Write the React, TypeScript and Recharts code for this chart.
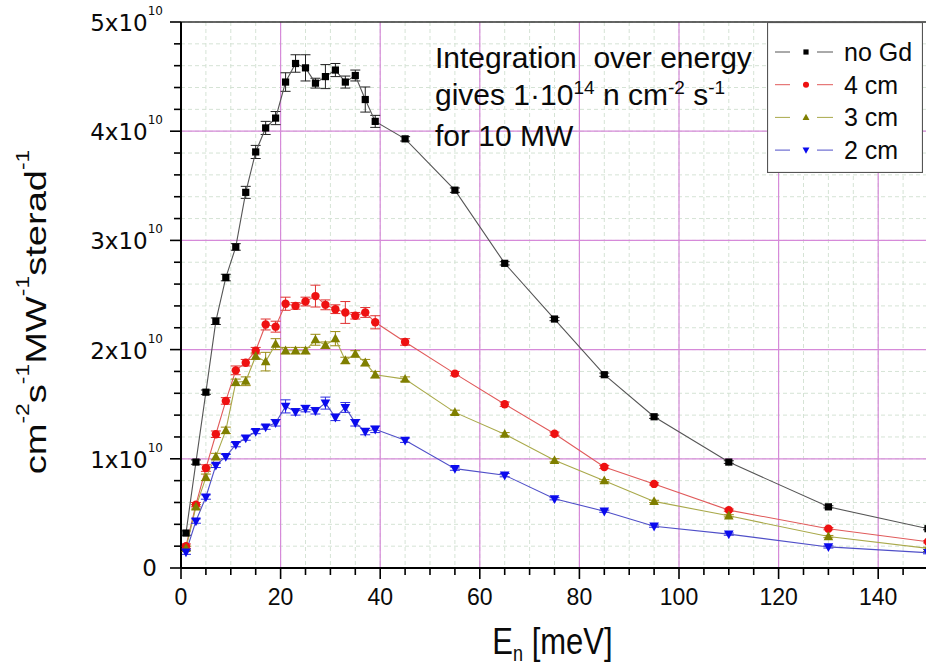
import React from 'react';
import {
  ComposedChart,
  Line,
  XAxis,
  YAxis,
  ErrorBar,
  CartesianGrid,
  ReferenceLine,
  Legend,
} from 'recharts';

// ---------- data (flux in units of 1e10) ----------
const energies = [1, 3, 5, 7, 9, 11, 13, 15, 17, 19, 21, 23, 25, 27, 29, 31, 33, 35, 37, 39, 45, 55, 65, 75, 85, 95, 110, 130, 150];

const noGd = [0.32, 0.97, 1.61, 2.26, 2.66, 2.94, 3.44, 3.81, 4.03, 4.12, 4.45, 4.62, 4.58, 4.44, 4.5, 4.56, 4.45, 4.51, 4.29, 4.09, 3.93, 3.46, 2.79, 2.28, 1.77, 1.385, 0.97, 0.56, 0.36];
const gd4 = [0.2, 0.58, 0.915, 1.225, 1.53, 1.81, 1.88, 1.99, 2.23, 2.21, 2.42, 2.4, 2.44, 2.49, 2.41, 2.37, 2.34, 2.31, 2.34, 2.25, 2.07, 1.78, 1.5, 1.23, 0.925, 0.77, 0.53, 0.36, 0.24];
const gd3 = [0.18, 0.56, 0.83, 1.02, 1.26, 1.7, 1.71, 1.94, 1.89, 2.05, 1.99, 1.99, 1.99, 2.09, 2.04, 2.1, 1.9, 1.96, 1.88, 1.77, 1.73, 1.425, 1.225, 0.986, 0.8, 0.61, 0.478, 0.288, 0.18];
const gd2 = [0.145, 0.43, 0.65, 0.94, 1.02, 1.13, 1.19, 1.25, 1.29, 1.33, 1.48, 1.43, 1.46, 1.44, 1.51, 1.38, 1.47, 1.33, 1.25, 1.27, 1.17, 0.91, 0.85, 0.634, 0.52, 0.383, 0.31, 0.193, 0.14];

const errNoGd = [0.02, 0.02, 0.02, 0.03, 0.03, 0.03, 0.055, 0.06, 0.06, 0.06, 0.085, 0.08, 0.12, 0.045, 0.11, 0.06, 0.055, 0.05, 0.115, 0.055, 0.02, 0.02, 0.015, 0.015, 0.015, 0.015, 0.012, 0.01, 0.01];
const err4 = [0.02, 0.02, 0.03, 0.03, 0.03, 0.04, 0.03, 0.03, 0.05, 0.05, 0.06, 0.03, 0.04, 0.1, 0.045, 0.04, 0.1, 0.03, 0.045, 0.06, 0.03, 0.02, 0.02, 0.015, 0.015, 0.01, 0.01, 0.01, 0.01];
const err3 = [0.02, 0.02, 0.03, 0.03, 0.03, 0.03, 0.04, 0.03, 0.085, 0.05, 0.03, 0.03, 0.03, 0.05, 0.03, 0.065, 0.03, 0.03, 0.03, 0.03, 0.02, 0.02, 0.015, 0.015, 0.01, 0.01, 0.01, 0.01, 0.01];
const err2 = [0.02, 0.02, 0.02, 0.02, 0.02, 0.02, 0.02, 0.02, 0.02, 0.03, 0.06, 0.03, 0.03, 0.03, 0.055, 0.03, 0.045, 0.03, 0.03, 0.03, 0.02, 0.015, 0.015, 0.01, 0.01, 0.01, 0.01, 0.01, 0.01];

const seriesKeys = ['noGd', 'gd4', 'gd3', 'gd2'];
const seriesNames = ['no Gd', '4 cm', '3 cm', '2 cm'];

// ticks
const xTicks = [0, 5, 10, 15, 20, 25, 30, 35, 40, 45, 50, 55, 60, 65, 70, 75, 80, 85, 90, 95, 100, 105, 110, 115, 120, 125, 130, 135, 140, 145, 150];
const xMajor = [0, 20, 40, 60, 80, 100, 120, 140];
const yTicks = [0, 0.2, 0.4, 0.6, 0.8, 1, 1.2, 1.4, 1.6, 1.8, 2, 2.2, 2.4, 2.6, 2.8, 3, 3.2, 3.4, 3.6, 3.8, 4, 4.2, 4.4, 4.6, 4.8, 5];
const yMajor = [0, 1, 2, 3, 4, 5];
const xGridMajor = [20, 40, 60, 80, 100, 120, 140];
const yGridMajor = [1, 2, 3, 4];

const data = energies.map((e, i) => ({
  e,
  noGd: noGd[i],
  gd4: gd4[i],
  gd3: gd3[i],
  gd2: gd2[i],
  eNoGd: errNoGd[i],
  e4: err4[i],
  e3: err3[i],
  e2: err2[i],
}));

// ---------- styles ----------
const ARIAL = "'Liberation Sans', Arial, Helvetica, sans-serif";
const DEJAVU = "'DejaVu Sans', Verdana, sans-serif";
const MAGENTA = '#d68ad9';
const INK = '#0a0a0a';

const styles: Record<string, { line: string; marker: string; err: string; shape: string }> = {
  noGd: { line: '#555555', marker: '#000000', err: '#222222', shape: 'square' },
  gd4: { line: '#e05a5a', marker: '#ee1111', err: '#e03030', shape: 'circle' },
  gd3: { line: '#a9a94a', marker: '#7f7f00', err: '#9a8a10', shape: 'up' },
  gd2: { line: '#4f4fc8', marker: '#0a0aee', err: '#2a2ae0', shape: 'down' },
};

const Marker = ({ cx, cy, shape, color, s = 1 }: any) => {
  if (cx == null || cy == null) return null;
  if (shape === 'square') {
    const h = 3.6 * s;
    return <rect x={cx - h} y={cy - h} width={2 * h} height={2 * h} fill={color} />;
  }
  if (shape === 'circle') {
    return <circle cx={cx} cy={cy} r={4.2 * s} fill={color} />;
  }
  if (shape === 'up') {
    const w = 4.8 * s;
    return (
      <polygon
        points={`${cx},${cy - 5.2 * s} ${cx - w},${cy + 3.6 * s} ${cx + w},${cy + 3.6 * s}`}
        fill={color}
      />
    );
  }
  const w = 4.8 * s;
  return (
    <polygon
      points={`${cx},${cy + 5.2 * s} ${cx - w},${cy - 3.6 * s} ${cx + w},${cy - 3.6 * s}`}
      fill={color}
    />
  );
};

const makeDot = (key: string) => (p: any) => (
  <Marker
    key={`${key}-${p.index}`}
    cx={p.cx}
    cy={p.cy}
    shape={styles[key].shape}
    color={styles[key].marker}
  />
);

// ---------- axes ticks ----------
const XTick = (props: any) => {
  const { x, y, payload } = props;
  const v = payload.value;
  const major = xMajor.includes(v);
  return (
    <g>
      <line x1={x} x2={x} y1={y} y2={y + (major ? 11 : 7)} stroke="#000" strokeWidth={1.6} />
      {major && (
        <text x={x} y={y + 37} textAnchor="middle" fontFamily={ARIAL} fontSize={23} fill={INK}>
          {v}
        </text>
      )}
    </g>
  );
};

const YTick = (props: any) => {
  const { x, y, payload } = props;
  const v = payload.value;
  const major = yMajor.includes(v);
  return (
    <g>
      <line x1={x - (major ? 11 : 7)} x2={x} y1={y} y2={y} stroke="#000" strokeWidth={1.6} />
      {major &&
        (v === 0 ? (
          <text x={x - 24} y={y + 8} textAnchor="end" fontFamily={DEJAVU} fontSize={23} fill={INK}>
            0
          </text>
        ) : (
          <text x={x - 18} y={y + 9} textAnchor="end" fontFamily={DEJAVU} fontSize={23} fill={INK}>
            {`${v}x10`}
            <tspan dy={-16} fontSize={12}>
              10
            </tspan>
          </text>
        ))}
    </g>
  );
};

const XTitle = (props: any) => {
  const vb = props.viewBox || { x: 181, y: 568, width: 747, height: 98 };
  const cx = vb.x + vb.width / 2 - 2;
  const by = vb.y + 86;
  return (
    <text
      transform={`translate(${cx},${by}) scale(1,1.2)`}
      x={0}
      y={0}
      textAnchor="middle"
      fontFamily={ARIAL}
      fontSize={31}
      fill={INK}
    >
      E
      <tspan dy={6} fontSize={18}>
        n
      </tspan>
      <tspan dy={-6}> [meV]</tspan>
    </text>
  );
};

const YTitle = (props: any) => {
  const vb = props.viewBox || { x: 0, y: 22, width: 181, height: 546 };
  const cx = vb.x + 46;
  const cy = vb.y + vb.height / 2 + 17;
  const sup = 18;
  const d = 17;
  return (
    <text
      transform={`translate(${cx},${cy}) rotate(-90) scale(1.27,1)`}
      x={0}
      y={0}
      textAnchor="middle"
      fontFamily={ARIAL}
      fontSize={30}
      fill={INK}
    >
      cm
      <tspan dy={-d} fontSize={sup}>-2</tspan>
      <tspan dy={d}>s</tspan>
      <tspan dy={-d} fontSize={sup}>-1</tspan>
      <tspan dy={d}>MW</tspan>
      <tspan dy={-d} fontSize={sup}>-1</tspan>
      <tspan dy={d}>sterad</tspan>
      <tspan dy={-d} fontSize={sup}>-1</tspan>
    </text>
  );
};

// ---------- legend ----------
const renderLegend = (props: any) => {
  const payload = [...(props.payload || [])].sort(
    (a: any, b: any) => seriesKeys.indexOf(a.dataKey) - seriesKeys.indexOf(b.dataKey)
  );
  const W = 155;
  const H = 150;
  return (
    <svg width={W + 1} height={H + 1} style={{ display: 'block' }}>
      <rect x={0.5} y={0.5} width={W} height={H} fill="#fff" stroke="#555" strokeWidth={1.2} />
      {payload.map((entry: any, i: number) => {
        const key = entry.dataKey as string;
        const st = styles[key];
        const cy = 30 + i * 32.7;
        return (
          <g key={key}>
            <line x1={8} x2={23} y1={cy} y2={cy} stroke={st.line} strokeWidth={1} />
            <Marker cx={39} cy={cy} shape={st.shape} color={st.marker} s={0.72} />
            <line x1={50} x2={66} y1={cy} y2={cy} stroke={st.line} strokeWidth={1} />
            <text x={77} y={cy + 9} fontFamily={ARIAL} fontSize={25} fill={INK}>
              {entry.value}
            </text>
          </g>
        );
      })}
    </svg>
  );
};

const supStyle: React.CSSProperties = { fontSize: 19, position: 'relative', top: -11 };

export default function App() {
  return (
    <div
      style={{
        position: 'fixed',
        left: 0,
        top: 0,
        width: 926,
        height: 666,
        overflow: 'hidden',
        background: '#fff',
      }}
    >
      <ComposedChart
        width={940}
        height={666}
        data={data}
        margin={{ top: 22, right: 12, bottom: 0, left: 0 }}
      >
        <CartesianGrid stroke="#d5e3d5" strokeDasharray="4 3" strokeWidth={1} />
        <XAxis
          dataKey="e"
          type="number"
          domain={[0, 150]}
          ticks={xTicks}
          interval={0}
          allowDataOverflow
          height={98}
          tickSize={0}
          tickMargin={0}
          tickLine={false}
          axisLine={{ stroke: '#000', strokeWidth: 2 }}
          tick={<XTick />}
          label={<XTitle />}
        />
        <YAxis
          type="number"
          domain={[0, 5]}
          ticks={yTicks}
          interval={0}
          allowDataOverflow
          width={181}
          tickSize={0}
          tickMargin={0}
          tickLine={false}
          axisLine={{ stroke: '#000', strokeWidth: 2 }}
          tick={<YTick />}
          label={<YTitle />}
        />
        {xGridMajor.map((v) => (
          <ReferenceLine key={`gx${v}`} x={v} stroke={MAGENTA} strokeWidth={1.2} />
        ))}
        {yGridMajor.map((v) => (
          <ReferenceLine key={`gy${v}`} y={v} stroke={MAGENTA} strokeWidth={1.2} />
        ))}
        <ReferenceLine y={5} stroke="#333" strokeWidth={1.5} />
        <ReferenceLine x={150} stroke="#333" strokeWidth={1.5} />

        {seriesKeys.map((key, i) => (
          <Line
            key={key}
            dataKey={key}
            name={seriesNames[i]}
            type="linear"
            stroke={styles[key].line}
            strokeWidth={1.1}
            dot={makeDot(key)}
            activeDot={false}
            isAnimationActive={false}
            legendType="line"
          >
            <ErrorBar
              dataKey={['eNoGd', 'e4', 'e3', 'e2'][i]}
              width={5}
              stroke={styles[key].err}
              strokeWidth={1}
              direction="y"
            />
          </Line>
        ))}

        <Legend
          layout="vertical"
          align="center"
          verticalAlign="middle"
          content={renderLegend}
          wrapperStyle={{ position: 'absolute', left: 767, top: 22, width: 157, height: 152 }}
        />
      </ComposedChart>
      <div
        style={{
          position: 'absolute',
          left: 435,
          top: 39,
          fontFamily: ARIAL,
          fontSize: 30,
          lineHeight: '37px',
          color: INK,
          whiteSpace: 'pre',
          pointerEvents: 'none',
        }}
      >
        <div>{'Integration  over energy'}</div>
        <div>
          gives 1·10<span style={supStyle}>14</span> n cm<span style={supStyle}>-2</span> s
          <span style={supStyle}>-1</span>
        </div>
        <div>for 10 MW</div>
      </div>
    </div>
  );
}
